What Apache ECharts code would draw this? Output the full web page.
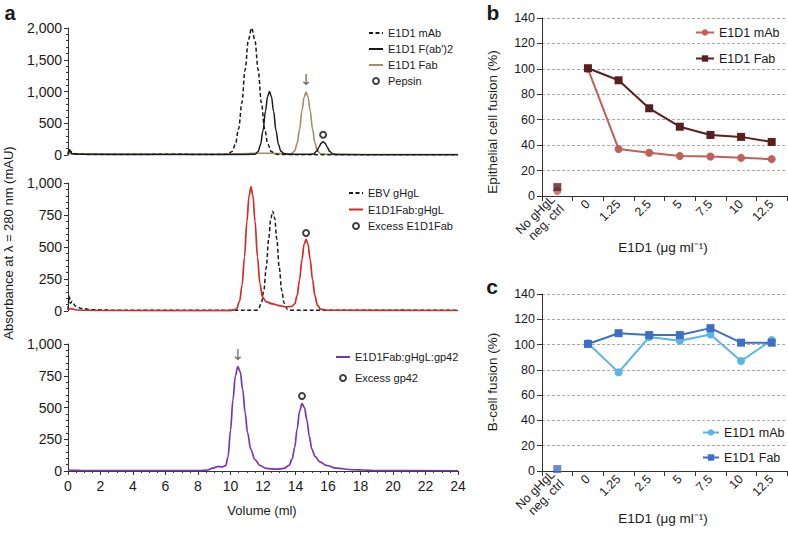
<!DOCTYPE html>
<html><head><meta charset="utf-8">
<script src="https://cdn.jsdelivr.net/npm/echarts@6/dist/echarts.min.js"></script>
<style>html,body{margin:0;padding:0;background:#fff}#c{width:788px;height:533px}</style>
</head><body><div id="c"></div>
<script>
// ---------- Panel a: chromatograms (volume ml, absorbance mAU) ----------
const a1_mAb = [[0,10],[0.08,100],[0.15,60],[0.3,25],[0.6,12],[1.5,8],[4,8],[6.5,12],[8,8],[9.5,8],[9.8,10],[10.1,57],[10.3,170],[10.5,412],[10.7,822],[10.9,1347],[11.1,1812],[11.3,2000],[11.5,1812],[11.7,1347],[11.9,822],[12.1,412],[12.3,170],[12.5,57],[12.8,12],[13.2,6],[16,5],[20,5],[24,5]];
const a1_F2 = [[0,15],[0.1,60],[0.25,20],[0.6,10],[5,8],[9,8],[11,8],[11.5,12],[11.7,54],[11.85,165],[12.0,386],[12.15,689],[12.28,918],[12.4,1000],[12.52,918],[12.65,689],[12.8,386],[12.95,165],[13.1,60],[13.3,22],[13.6,12],[14.5,10],[15.1,14],[15.3,58],[15.45,127],[15.58,187],[15.7,210],[15.82,187],[15.95,127],[16.1,58],[16.3,14],[16.6,6],[20,5],[24,5]];
const a1_Fab = [[0,25],[0.3,18],[2,15],[6,12],[9,12],[10.5,18],[11.5,25],[12.3,28],[13,22],[13.5,18],[13.75,22],[13.95,65],[14.1,184],[14.25,407],[14.4,700],[14.53,914],[14.65,990],[14.77,914],[14.9,700],[15.05,407],[15.2,184],[15.35,65],[15.55,18],[16,10],[20,8],[24,8]];
const a1_pepsin = [[15.7,320]];
const a1_arrow = [[14.65,1180]];

const a2_gHgL = [[0,10],[0.08,115],[0.14,60],[0.25,75],[0.45,40],[0.8,20],[1.5,10],[3,6],[10,5],[11.6,5],[11.7,11],[11.9,61],[12.05,161],[12.2,339],[12.35,563],[12.48,724],[12.6,780],[12.72,724],[12.85,563],[13.0,339],[13.15,161],[13.3,61],[13.5,12],[13.7,5],[20,5],[20.5,8],[21,5],[24,5]];
const a2_FabgHgL = [[0,12],[0.2,18],[0.5,8],[2,4],[10,3],[10.36,14],[10.56,76],[10.71,201],[10.86,422],[11.01,700],[11.14,900],[11.26,970],[11.38,900],[11.51,700],[11.66,422],[11.81,215],[11.96,110],[12.2,72],[12.6,55],[13.0,42],[13.4,32],[13.75,35],[13.95,55],[14.1,120],[14.25,244],[14.4,404],[14.53,520],[14.65,560],[14.77,520],[14.9,404],[15.05,244],[15.2,116],[15.35,44],[15.55,14],[16,6],[24,4]];
const a2_excess = [[14.65,610]];
const a2_arrow = [[11.26,1025]];

const a3_complex = [[0,12],[0.2,6],[1,3],[8,3],[8.6,8],[8.9,22],[9.2,35],[9.5,33],[9.7,42],[9.85,110],[10.0,320],[10.15,560],[10.3,750],[10.45,822],[10.6,780],[10.75,640],[10.9,460],[11.05,300],[11.25,170],[11.5,90],[11.8,45],[12.2,20],[12.8,14],[13.3,20],[13.6,45],[13.8,95],[13.95,185],[14.1,330],[14.25,470],[14.4,530],[14.55,500],[14.7,400],[14.85,275],[15.0,175],[15.2,115],[15.5,72],[15.9,45],[16.5,22],[17.5,10],[18.2,8],[19,3],[24,2]];
const a3_excess = [[14.4,590]];
const a3_arrow = [[10.45,915]];

// ---------- Panels b, c: fusion (%) ----------
const concCategories = ['No gHgL\nneg. ctrl','0','1.25','2.5','5','7.5','10','12.5'];
const b_mAb = ['-',100,37,34,31.5,31,30,29];
const b_Fab = ['-',100.5,91,69,54.5,48,46.5,42.5];
const b_mAbCtrl = [4];
const b_FabCtrl = [7];
const c_mAb = ['-',101,78,106,103,108,87,103.5];
const c_Fab = ['-',100.5,109,107.5,107.5,113,101.5,101.5];
const c_FabCtrl = [1.5];

const legendNames = {
  a1m:'E1D1 mAb', a1f2:"E1D1 F(ab')2", a1f:'E1D1 Fab', a1p:'Pepsin',
  a2g:'EBV gHgL', a2f:'E1D1Fab:gHgL', a2e:'Excess E1D1Fab',
  a3c:'E1D1Fab:gHgL:gp42', a3e:'Excess gp42',
  bm:'E1D1 mAb', bf:'E1D1 Fab', cm:'E1D1 mAb', cf:'E1D1 Fab'
};

const FONT = 'Liberation Sans, Arial, Helvetica, sans-serif';
const TXT = '#1a1a1a';
const chart = echarts.init(document.getElementById('c'), null, {renderer:'svg'});
const comma = v => String(v).replace(/\B(?=(\d{3})+(?!\d))/g, ',');

function aY(idx, max, interval){
  return {gridIndex: idx, type:'value', min:0, max:max, interval:interval,
    axisLine:{show:true, lineStyle:{color:'#333', width:1}},
    axisTick:{show:true, length:4, lineStyle:{color:'#333'}},
    minorTick:{show:true, splitNumber:5, length:2, lineStyle:{color:'#333'}},
    splitLine:{show:false},
    axisLabel:{fontFamily:FONT, fontSize:14, color:TXT, margin:6, formatter:comma}};
}
function aX(idx, show){
  return {gridIndex: idx, type:'value', min:0, max:24, interval:2, show:show,
    axisLine:{show:true, onZero:false, lineStyle:{color:'#333'}},
    axisTick:{show:true, length:4, lineStyle:{color:'#333'}},
    minorTick:{show:true, splitNumber:4, length:2, lineStyle:{color:'#333'}},
    splitLine:{show:false},
    axisLabel:{fontFamily:FONT, fontSize:14, color:TXT, margin:8}};
}
function bcY(idx){
  return {gridIndex: idx, type:'value', min:0, max:140, interval:20,
    axisLine:{show:true, lineStyle:{color:'#333'}},
    axisTick:{show:true, length:5, lineStyle:{color:'#333'}},
    splitLine:{show:true, lineStyle:{color:'#aaa', type:[3,2], width:1}},
    axisLabel:{fontFamily:FONT, fontSize:12.5, color:TXT, margin:7}};
}
function bcX(idx){
  return {gridIndex: idx, type:'category', data:concCategories, boundaryGap:true,
    axisLine:{show:true, lineStyle:{color:'#333'}},
    axisTick:{show:true, length:5, alignWithLabel:false, lineStyle:{color:'#333'}},
    axisLabel:{fontFamily:FONT, fontSize:12.5, color:TXT, rotate:45, margin:6, interval:0, lineHeight:13}};
}
function line(id, xi, data, color, dashed, w){
  return {id:id, name:id, type:'line', xAxisIndex:xi, yAxisIndex:xi, data:data, symbol:'none',
    smooth:0.35, smoothMonotone:'x',
    lineStyle:{color:color, width:w||1.5, type: dashed ? [4,2.5] : 'solid'},
    itemStyle:{color:color}, z:3};
}
function marker(id, xi, data){
  return {id:id, name:id, type:'scatter', xAxisIndex:xi, yAxisIndex:xi, data:data, symbol:'circle', symbolSize:6,
    itemStyle:{color:'#fff', borderColor:'#111', borderWidth:2}, z:5};
}
function arrow(id, xi, data){
  return {id:id, name:id, type:'scatter', xAxisIndex:xi, yAxisIndex:xi, data:data, symbolSize:1,
    itemStyle:{color:'rgba(0,0,0,0)'}, silent:true,
    label:{show:true, position:'inside', formatter:'\u2193', fontSize:15, color:'#444', fontFamily:'DejaVu Sans, sans-serif'}, z:5};
}
function fus(id, xi, data, color, sym, size){
  return {id:id, name:id, type:'line', xAxisIndex:xi, yAxisIndex:xi, data:data, symbol:sym, symbolSize:size,
    showSymbol:true, connectNulls:false, lineStyle:{color:color, width:2}, itemStyle:{color:color}, z:4};
}
function ctrl(id, xi, vals, color, sym, size){
  return {id:id, name:id, type:'scatter', xAxisIndex:xi, yAxisIndex:xi, data:vals.map(v=>[0,v]),
    symbol:sym, symbolSize:size, itemStyle:{color:color}, z:4};
}
// line-only legend entries: hide the symbol drawn in the icon
const lineOnly = n => ({name:n, itemStyle:{opacity:0, color:'rgba(0,0,0,0)', borderWidth:0}});
function legend(names, left, top, gap, iw, ih, fs, lh){
  return {data:names, orient:'vertical', left:left, top:top, itemGap:gap, itemWidth:iw, itemHeight:ih,
    selectedMode:false, padding:0, formatter:n=>legendNames[n],
    textStyle:{fontFamily:FONT, fontSize:fs, color:TXT, lineHeight:lh}};
}
function gtext(text, x, y, size, opts){
  return {type:'text', x:x, y:y, style:{text:text, font: (opts&&opts.bold?'bold ':'') + size + 'px ' + FONT,
    fill:TXT, textAlign:'center', textVerticalAlign:'middle'}};
}
function vtext(text, x, y, size){
  return {type:'text', x:x, y:y, rotation:Math.PI/2,
    style:{text:text, font:size+'px '+FONT, fill:TXT, textAlign:'center', textVerticalAlign:'middle'}};
}

const option = {
  animation:false,
  backgroundColor:'#fff',
  grid:[
    {left:68, top:28, width:390, height:127},
    {left:68, top:183, width:390, height:128},
    {left:68, top:344, width:390, height:127},
    {left:542, top:18, width:245, height:178},
    {left:542, top:294, width:245, height:177}
  ],
  xAxis:[aX(0,false), aX(1,false), aX(2,true), bcX(3), bcX(4)],
  yAxis:[aY(0,2000,500), aY(1,1000,250), aY(2,1000,250), bcY(3), bcY(4)],
  legend:[
    legend([lineOnly('a1m'), lineOnly('a1f2'), lineOnly('a1f'), 'a1p'], 368, 27, 4, 14, 6, 11, 12),
    legend([lineOnly('a2g'), lineOnly('a2f'), 'a2e'], 348, 187, 4.5, 14, 6, 11, 12),
    legend([lineOnly('a3c'), 'a3e'], 335, 351, 9, 14, 6, 11, 12),
    legend(['bm','bf'], 695, 25, 11, 18, 8, 12.5, 15),
    legend(['cm','cf'], 702, 425, 10, 16, 8, 12.5, 15)
  ],
  series:[
    line('a1f', 0, a1_Fab, '#a88b64', false, 1.6),
    line('a1m', 0, a1_mAb, '#1a1a1a', true, 1.5),
    line('a1f2', 0, a1_F2, '#1a1a1a', false, 1.5),
    marker('a1p', 0, a1_pepsin),
    arrow('a1arr', 0, a1_arrow),
    line('a2g', 1, a2_gHgL, '#1a1a1a', true, 1.5),
    line('a2f', 1, a2_FabgHgL, '#d22b2b', false, 1.7),
    marker('a2e', 1, a2_excess),
    arrow('a2arr', 1, a2_arrow),
    line('a3c', 2, a3_complex, '#7a35b0', false, 1.7),
    marker('a3e', 2, a3_excess),
    arrow('a3arr', 2, a3_arrow),
    ctrl('bmc', 3, b_mAbCtrl, '#c0605a', 'circle', 8),
    ctrl('bfc', 3, b_FabCtrl, '#5a1e1e', 'rect', 8),
    fus('bm', 3, b_mAb, '#c0605a', 'circle', 8),
    fus('bf', 3, b_Fab, '#5a1e1e', 'rect', 8),
    ctrl('cfc', 4, c_FabCtrl, '#3d6fc4', 'rect', 8),
    fus('cm', 4, c_mAb, '#5ab4e6', 'circle', 8),
    fus('cf', 4, c_Fab, '#3d6fc4', 'rect', 8)
  ],
  graphic:[
    gtext('a', 10, 13, 20, {bold:true}),
    gtext('b', 493, 12, 21, {bold:true}),
    gtext('c', 492, 286, 21, {bold:true}),
    vtext('Absorbance at \u03bb = 280 nm (mAU)', 8, 243, 13),
    gtext('Volume (ml)', 262, 510, 13),
    vtext('Epithelial cell fusion (%)', 492, 122, 13.5),
    vtext('B-cell fusion (%)', 492, 382, 13.5),
    gtext('E1D1 (\u03bcg ml\u207b\u00b9)', 663, 247, 13.5),
    gtext('E1D1 (\u03bcg ml\u207b\u00b9)', 663, 518, 13.5)
  ]
};
chart.setOption(option);
</script></body></html>
